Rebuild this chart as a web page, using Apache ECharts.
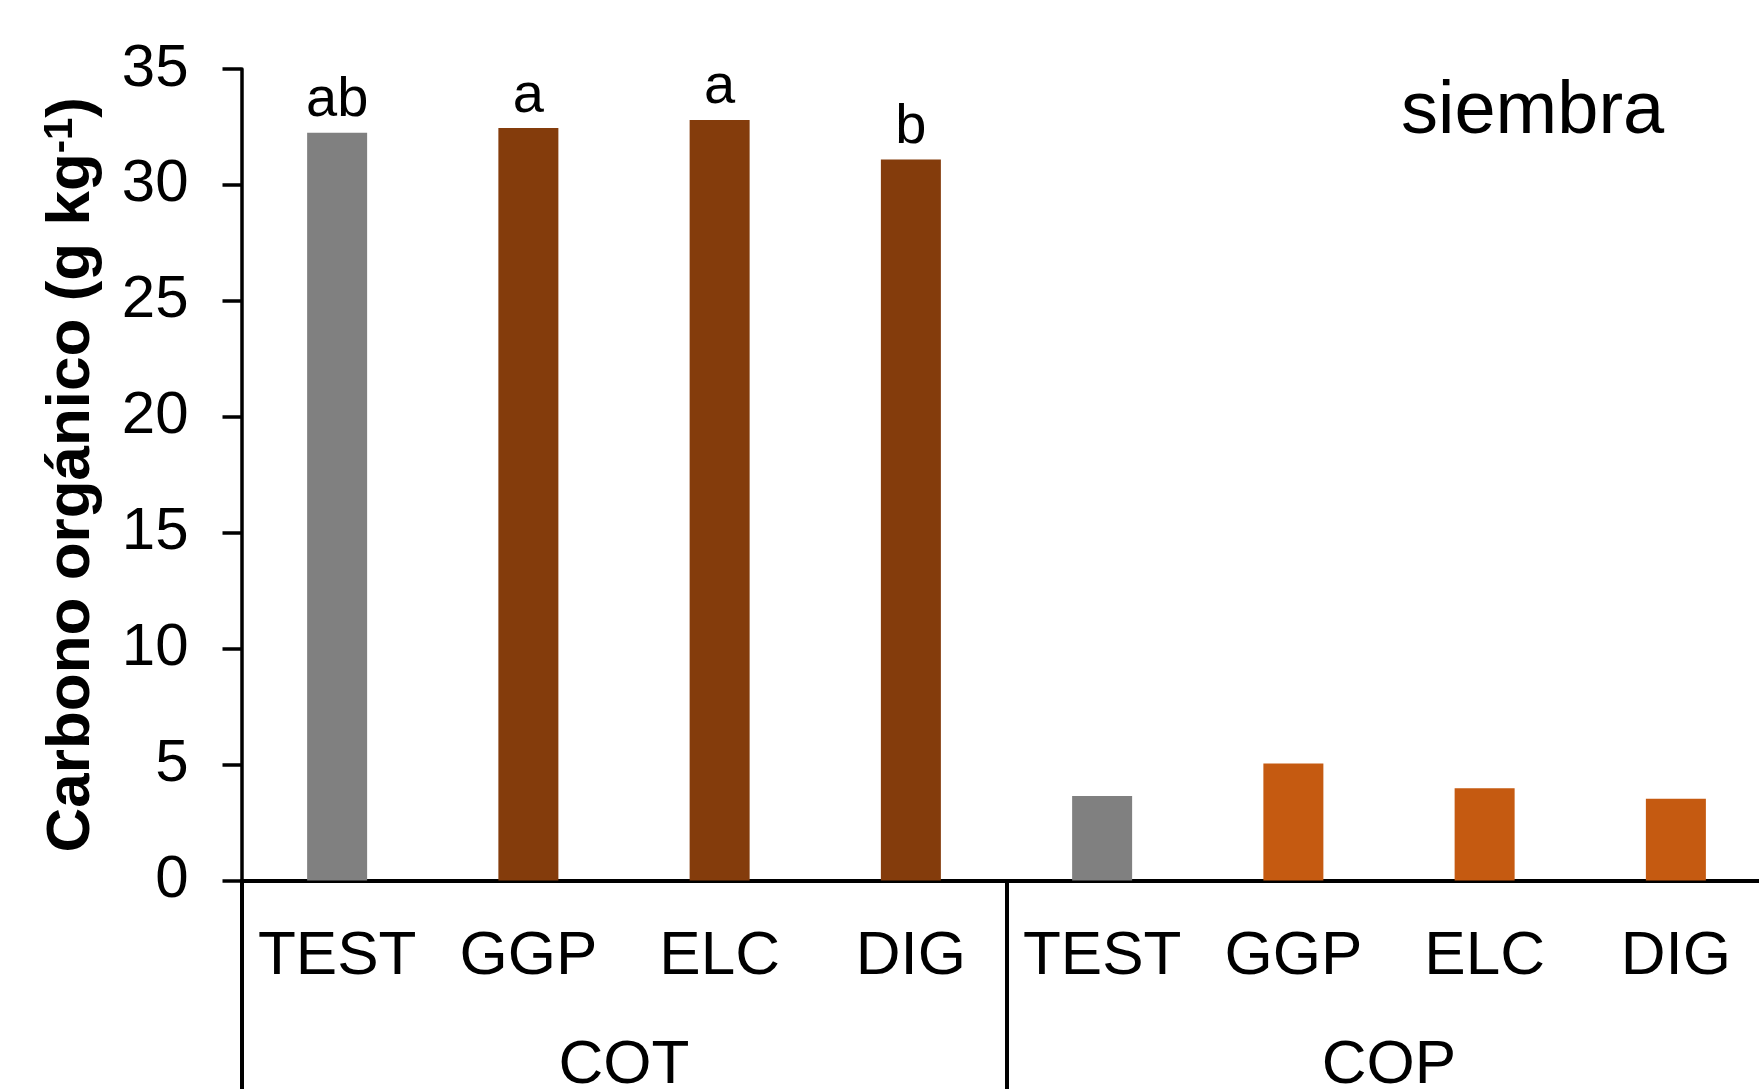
<!DOCTYPE html>
<html>
<head>
<meta charset="utf-8">
<script src="https://cdn.jsdelivr.net/npm/echarts@6/dist/echarts.min.js"></script>
<style>
html,body{margin:0;padding:0;background:#fff;}
#c{width:1759px;height:1089px;}
</style>
</head>
<body>
<div id="c"></div>
<script>
const categories = ['TEST', 'GGP', 'ELC', 'DIG', 'TEST', 'GGP', 'ELC', 'DIG'];
const groups = ['COT', 'COP'];
const values = [32.25, 32.45, 32.8, 31.1, 3.64, 5.05, 3.98, 3.53];
const letters = ['ab', 'a', 'a', 'b', '', '', '', ''];
const barColors = ['#808080', '#843C0C', '#843C0C', '#843C0C', '#808080', '#C55A11', '#C55A11', '#C55A11'];
const yTicks = [0, 5, 10, 15, 20, 25, 30, 35];
const panelLabel = 'siembra';

const FONT = "'Liberation Sans', Arial, sans-serif";
const chart = echarts.init(document.getElementById('c'), null, {renderer: 'canvas'});
chart.setOption({
  animation: false,
  backgroundColor: '#fff',
  textStyle: {fontFamily: FONT},
  grid: {left: 241.5, top: 69, width: 1530, bottom: 208.5, containLabel: false, outerBoundsMode: 'none'},
  xAxis: [{
    type: 'category',
    data: categories,
    position: 'bottom',
    axisLine: {show: true, lineStyle: {color: '#000', width: 4}},
    axisTick: {show: false},
    axisLabel: {interval: 0, margin: 45, fontSize: 62, color: '#000', fontFamily: FONT}
  }, {
    type: 'category',
    data: groups,
    position: 'bottom',
    axisLine: {show: false},
    axisTick: {show: true, interval: 0, length: 215, lineStyle: {color: '#000', width: 4}},
    axisLabel: {interval: 0, margin: 154, fontSize: 62, color: '#000', fontFamily: FONT}
  }],
  yAxis: {
    type: 'value',
    min: yTicks[0],
    max: yTicks[yTicks.length - 1],
    interval: 5,
    splitLine: {show: false},
    axisLine: {show: true, lineStyle: {color: '#000', width: 3.5}},
    axisTick: {show: true, length: 19, lineStyle: {color: '#000', width: 3.5}},
    axisLabel: {margin: 53, fontSize: 60, color: '#000', fontFamily: FONT},
    name: '{b|Carbono orgánico (g kg}{s|-1}{b|)}',
    nameLocation: 'middle',
    nameRotate: 90,
    nameGap: 139,
    nameTextStyle: {
      rich: {
        b: {fontSize: 62, fontWeight: 'bold', color: '#000', fontFamily: FONT},
        s: {fontSize: 40, fontWeight: 'bold', color: '#000', fontFamily: FONT, verticalAlign: 'top'}
      }
    }
  },
  series: [{
    type: 'bar',
    xAxisIndex: 0,
    barWidth: 60,
    data: values.map((v, i) => ({value: v, itemStyle: {color: barColors[i]}})),
    label: {
      show: true,
      position: 'top',
      distance: 4,
      fontSize: 56,
      color: '#000',
      fontFamily: FONT,
      formatter: p => letters[p.dataIndex]
    }
  }],
  graphic: [{
    type: 'text',
    left: 1401,
    top: 76,
    style: {text: panelLabel, fontSize: 74, fill: '#000', fontFamily: FONT}
  }]
});
</script>
</body>
</html>
